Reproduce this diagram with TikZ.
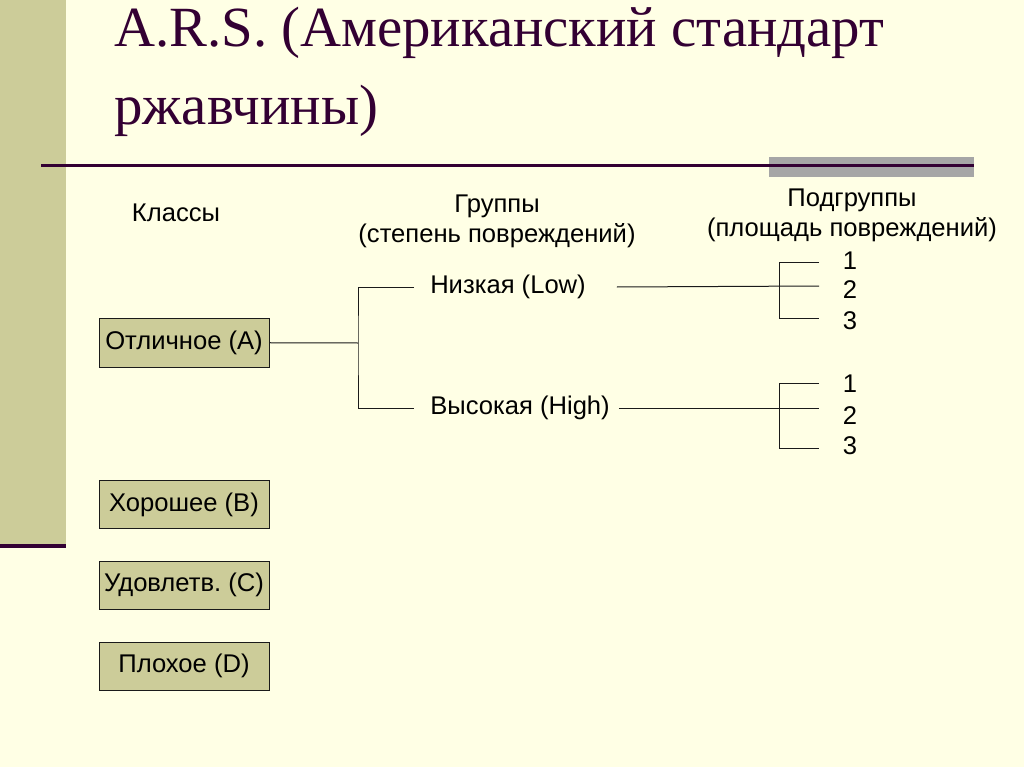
\documentclass[tikz,border=0pt]{standalone}
\usepackage{fontspec}
\setmainfont{Liberation Sans}
\newfontfamily\titlefont{Liberation Serif}
\frenchspacing
\usepackage{xcolor}
\definecolor{mycrem}{HTML}{FFFFE5}
\definecolor{myoliv}{HTML}{CCCC99}
\definecolor{myplum}{HTML}{330033}
\definecolor{mygri1}{HTML}{A6A6A6}
\definecolor{mylin1}{HTML}{1A1A1A}
\usepackage{tikz}
\usetikzlibrary{positioning}
\tikzstyle{classbox} = [rectangle, minimum width=170pt, minimum height=48.5pt, inner sep=0pt, text centered, draw=mylin1, fill=myoliv, text=black, font=\fontsize{25.6}{30}\selectfont]
\tikzstyle{head} = [align=center, inner sep=0pt, text=black, font=\fontsize{25.6}{30}\selectfont]
\tikzstyle{grp} = [inner sep=0pt, text=black, font=\fontsize{25.6}{30}\selectfont]
\tikzstyle{num} = [inner sep=0pt, text=black, font=\fontsize{25.6}{30}\selectfont]
\tikzstyle{link} = [line width=1pt, mylin1]
\tikzstyle{rule} = [line width=3pt, myplum]

\begin{document}
\begin{tikzpicture}[x=1pt,y=1pt]
	\fill[mycrem] (0,0) rectangle (1024,-767);
	\useasboundingbox (0,0) rectangle (1024,-767);
	% slide frame
	\fill[myoliv] (0,0) rectangle (66,-546);
	\draw[line width=4pt, myplum] (0,-546) -- (66,-546);
	\fill[mygri1] (769,-157) rectangle (974,-177);
	\draw[rule] (41,-165.5) -- (974,-165.5);
	\node (title)[anchor=base west, align=left, inner sep=0pt, text=myplum, font=\titlefont\fontsize{56.8}{78}\selectfont] at (114,-125) {A.R.S. (Американский стандарт\\ржавчины)};
	% headers
	\node (hclass)[head] at (176,-213) {Классы};
	\node (hgroup)[head] at (497,-221) {Группы\\(степень повреждений)};
	\node (hsub)[head] at (852,-215) {Подгруппы\\(площадь повреждений)};
	% classes
	\node (classA)[classbox] at (184,-342.5) {Отличное (A)};
	\node (classB)[classbox, below=113pt of classA] {Хорошее (B)};
	\node (classC)[classbox, below=32pt of classB] {Удовлетв. (C)};
	\node (classD)[classbox, below=32pt of classC] {Плохое (D)};
	% groups
	\node (low)[grp] at (508,-287) {Низкая (Low)};
	\node (high)[grp] at (520,-408) {Высокая (High)};
	\coordinate (forkA) at (358,-343);
	% subgroups
	\node (n11)[num] at (850,-261) {1};
	\node (n12)[num] at (850,-290) {2};
	\node (n13)[num] at (850,-321) {3};
	\node (n21)[num] at (850,-384) {1};
	\node (n22)[num] at (850,-416) {2};
	\node (n23)[num] at (850,-446) {3};
	\coordinate (fork1) at (779,-286);
	\coordinate (t11) at (819,-262);
	\coordinate (t12) at (819,-286);
	\coordinate (t13) at (819,-318);
	\coordinate (fork2) at (779,-408);
	\coordinate (t21) at (819,-383);
	\coordinate (t22) at (819,-408);
	\coordinate (t23) at (819,-448);
	\draw [link] (classA) -- (forkA);
	\draw [link] ([xshift=-16pt]low.west) -| (forkA) |- ([xshift=-16pt]high.west);
	\draw [link] ([xshift=31pt]low.east) -- (t12);
	\draw [link] (t11) -| (fork1) |- (t13);
	\draw [link] ([xshift=9pt]high.east) -- (t22);
	\draw [link] (t21) -| (fork2) |- (t23);
\end{tikzpicture}
\end{document}
